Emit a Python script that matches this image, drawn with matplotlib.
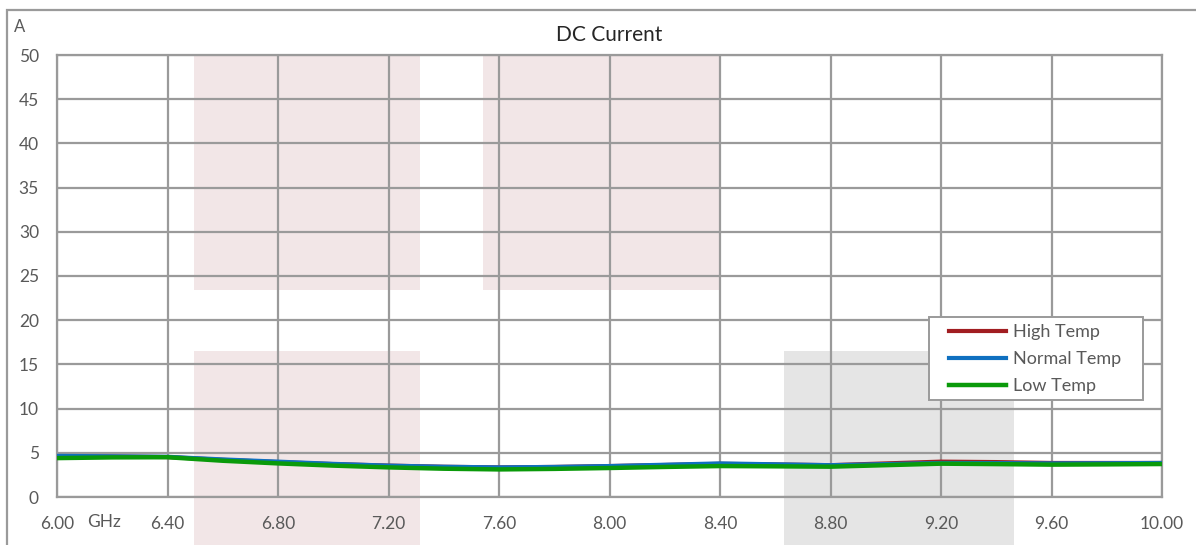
import matplotlib.pyplot as plt
from matplotlib.patches import Rectangle

plt.rcParams['font.family'] = ['Lato', 'DejaVu Sans']

# frequency points (GHz) and DC current (A)
freq = [6.0, 6.2, 6.4, 6.6, 6.8, 7.0, 7.2, 7.4, 7.6, 7.8, 8.0, 8.2, 8.4, 8.6, 8.8, 9.0, 9.2, 9.4, 9.6, 9.8, 10.0]
high_temp = [4.6, 4.58, 4.52, 4.2, 3.95, 3.72, 3.55, 3.42, 3.35, 3.4, 3.5, 3.62, 3.75, 3.68, 3.6, 3.8, 4.0, 3.95, 3.85, 3.85, 3.85]
normal_temp = [4.65, 4.6, 4.55, 4.25, 4.0, 3.75, 3.55, 3.42, 3.35, 3.4, 3.5, 3.65, 3.8, 3.7, 3.6, 3.72, 3.85, 3.83, 3.8, 3.82, 3.85]
low_temp = [4.4, 4.48, 4.5, 4.1, 3.8, 3.55, 3.35, 3.2, 3.12, 3.18, 3.28, 3.4, 3.5, 3.47, 3.43, 3.6, 3.77, 3.72, 3.66, 3.69, 3.73]

# shaded zones: (x start, x end, y start, y end)
pink_zones = [(6.496, 7.314, 23.4, 50), (7.542, 8.40, 23.4, 50), (6.496, 7.314, -6, 16.5)]
gray_zones = [(8.632, 9.464, -6, 16.5)]

x_ticks = [6.0, 6.4, 6.8, 7.2, 7.6, 8.0, 8.4, 8.8, 9.2, 9.6, 10.0]
y_ticks = list(range(0, 55, 5))

grid_col = '#9a9a9a'
text_col = '#595959'

fig = plt.figure(figsize=(11.96, 5.45), dpi=100)
ax = fig.add_axes([57/1196, 48/545, 1105/1196, 442/545])

for x0, x1, y0, y1 in pink_zones:
    ax.add_patch(Rectangle((x0, y0), x1 - x0, y1 - y0, facecolor='#f2e6e7',
                           edgecolor='none', clip_on=False, zorder=1))
for x0, x1, y0, y1 in gray_zones:
    ax.add_patch(Rectangle((x0, y0), x1 - x0, y1 - y0, facecolor='#e5e5e5',
                           edgecolor='none', clip_on=False, zorder=1))

ax.plot(freq, high_temp, color='#a11d21', lw=3, label='High Temp', zorder=3)
ax.plot(freq, normal_temp, color='#0f70c0', lw=3, label='Normal Temp', zorder=4)
ax.plot(freq, low_temp, color='#0a9a0a', lw=3.2, label='Low Temp', zorder=5)

ax.set_xlim(6, 10)
ax.set_ylim(0, 50)
ax.set_xticks(x_ticks)
ax.set_xticklabels(['%.2f' % v for v in x_ticks])
ax.set_yticks(y_ticks)
ax.grid(True, color=grid_col, lw=1.6)
ax.tick_params(length=0, labelsize=12.5, labelcolor=text_col)
ax.tick_params(axis='x', pad=14)
ax.tick_params(axis='y', pad=13)
for s in ax.spines.values():
    s.set_color(grid_col)
    s.set_linewidth(1.6)

ax.set_title('DC Current', fontsize=15, color='#262626', pad=10)
ax.text(104/1196, 1 - 522/545, 'GHz', transform=fig.transFigure, fontsize=12.5,
        color=text_col, ha='center', va='center')
fig.text(20/1196, 1 - 27/545, 'A', fontsize=12, color=text_col, ha='center', va='center')

# outer chart border
fig.patches.append(Rectangle((7/1196, -0.1), 1.2, 1 - 10/545 + 0.1, transform=fig.transFigure,
                             fill=False, edgecolor=grid_col, lw=1.6))

# legend box drawn separately, legend entries placed inside it
ax.add_patch(Rectangle((929/1196, 1 - 400/545), 214/1196, 83/545, transform=fig.transFigure,
                       facecolor='white', edgecolor=grid_col, lw=1.4, zorder=6, clip_on=False))
leg = ax.legend(loc='upper left', bbox_to_anchor=(949/1196, 1 - 324/545),
                bbox_transform=fig.transFigure, fontsize=13, frameon=False,
                borderaxespad=0, borderpad=0, handlelength=3.17, handletextpad=0.35,
                labelspacing=0.62)
leg.set_zorder(7)
for t in leg.get_texts():
    t.set_color(text_col)

fig.savefig('out.png', dpi=100)
